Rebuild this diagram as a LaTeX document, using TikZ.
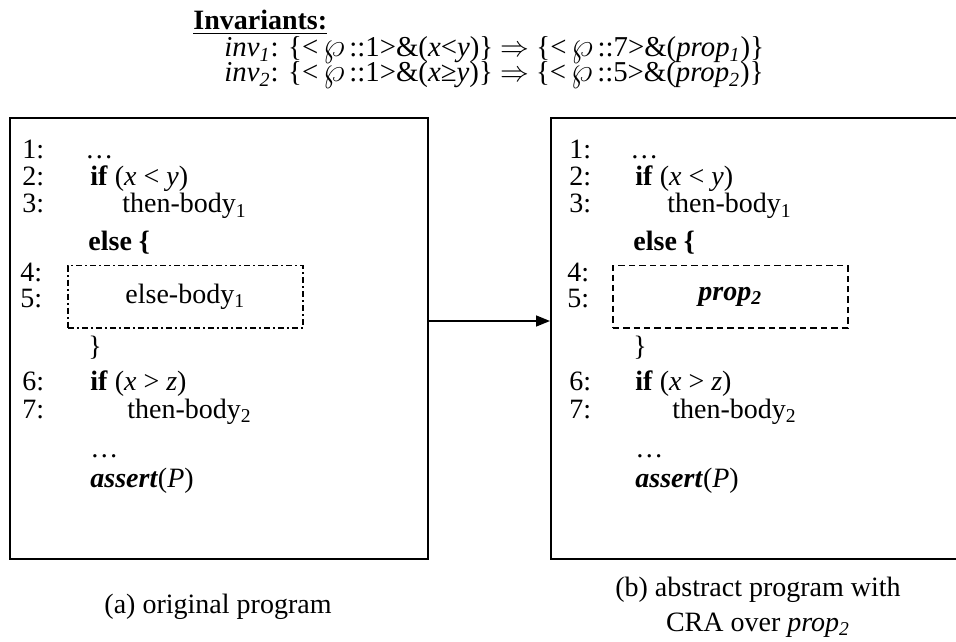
\documentclass[tikz,border=0pt]{standalone}
\usepackage{fontspec}
\setmainfont{Liberation Serif}
\usetikzlibrary{arrows.meta, positioning}
\tikzset{
  progbox/.style={rectangle, draw, line width=1pt, anchor=north west,
    inner sep=0pt, minimum width=209pt, minimum height=220.5pt},
  holebox/.style={rectangle, draw, line width=0.75pt, anchor=north west,
    inner sep=0pt, minimum width=117.5pt, minimum height=31pt,
    dash pattern=on 3pt off 1.6pt on 0.8pt off 1.6pt},
  propbox/.style={rectangle, draw, line width=0.75pt, anchor=north west,
    inner sep=0pt, minimum width=117.5pt, minimum height=31pt,
    dash pattern=on 3.2pt off 2pt},
  num/.style={anchor=base west, inner sep=0pt},
  code/.style={anchor=base west, inner sep=0pt},
  invline/.style={anchor=base west, inner sep=0pt, font=\fontsize{14.4}{17}\selectfont},
  arrow/.style={-{Triangle[length=7pt, width=5.5pt]}, line width=0.75pt}
}
\newcommand{\wpx}{{\fontsize{16}{16}\selectfont$\wp$}\,}

\begin{document}
\begin{tikzpicture}[x=0.5pt, y=-0.5pt, every node/.style={font=\fontsize{14}{17}\selectfont}]
  \useasboundingbox (0,0) rectangle (956,641);

  % Invariants
  \node[code] (title) at (193,30) {\underline{\textbf{Invariants:}}};
  \node[invline] (inv1) at (224,57) {\textit{inv}\textsubscript{\textit{1}}: \{<\,\wpx::1>\&(\textit{x}<\textit{y})\} $\Rightarrow$ \{<\,\wpx::7>\&(\textit{prop}\textsubscript{\textit{1}})\}};
  \node[invline] (inv2) at (224,82) {\textit{inv}\textsubscript{\textit{2}}: \{<\,\wpx::1>\&(\textit{x}≥\textit{y})\} $\Rightarrow$ \{<\,\wpx::5>\&(\textit{prop}\textsubscript{\textit{2}})\}};

  % Original program
  \node[progbox] (orig) at (9,117) {};
  \node[num] (o1) at (22,159) {1:};
  \node[code] at (85,159) {\dots};
  \node[num] (o2) at (22,186) {2:};
  \node[code] at (90,186) {\textbf{if} (\textit{x} < \textit{y})};
  \node[num] (o3) at (22,213) {3:};
  \node[code] at (122,213) {then-body\textsubscript{1}};
  \node[code] at (88,250) {\textbf{else \{}};
  \node[num] (o4) at (20,281) {4:};
  \node[num] (o5) at (20,307) {5:};
  \node[holebox] (hole) at (67,265) {else-body\textsubscript{1}};
  \node[code] at (88,355) {\}};
  \node[num] (o6) at (22,390) {6:};
  \node[code] at (90,390) {\textbf{if} (\textit{x} > \textit{z})};
  \node[num] (o7) at (22,418) {7:};
  \node[code] at (127,418) {then-body\textsubscript{2}};
  \node[code] at (90,457) {\dots};
  \node[code] at (90,487) {\textbf{\textit{assert}}(\textit{P})};
  \node (capa) at (218,607) {(a) original program};

  % Abstract program
  \node[progbox, minimum width=215pt] (abst) at (550,117) {};
  \node[num] (a1) at (569,159) {1:};
  \node[code] at (630,159) {\dots};
  \node[num] (a2) at (569,186) {2:};
  \node[code] at (635,186) {\textbf{if} (\textit{x} < \textit{y})};
  \node[num] (a3) at (569,213) {3:};
  \node[code] at (667,213) {then-body\textsubscript{1}};
  \node[code] at (633,250) {\textbf{else \{}};
  \node[num] (a4) at (567,281) {4:};
  \node[num] (a5) at (567,307) {5:};
  \node[propbox] (prop) at (612,265) {\textbf{\textit{prop}\textsubscript{\textit{2}}}};
  \node[code] at (633,355) {\}};
  \node[num] (a6) at (569,390) {6:};
  \node[code] at (635,390) {\textbf{if} (\textit{x} > \textit{z})};
  \node[num] (a7) at (569,418) {7:};
  \node[code] at (672,418) {then-body\textsubscript{2}};
  \node[code] at (635,457) {\dots};
  \node[code] at (635,487) {\textbf{\textit{assert}}(\textit{P})};
  \node[align=center, font=\fontsize{14}{17.5}\selectfont] (capb) at (758,607) {(b) abstract program with\\CRA over \textit{prop}\textsubscript{\textit{2}}};

  \draw[arrow] ([yshift=8.75pt]orig.east) -- ([yshift=8.75pt]abst.west);
\end{tikzpicture}
\end{document}
